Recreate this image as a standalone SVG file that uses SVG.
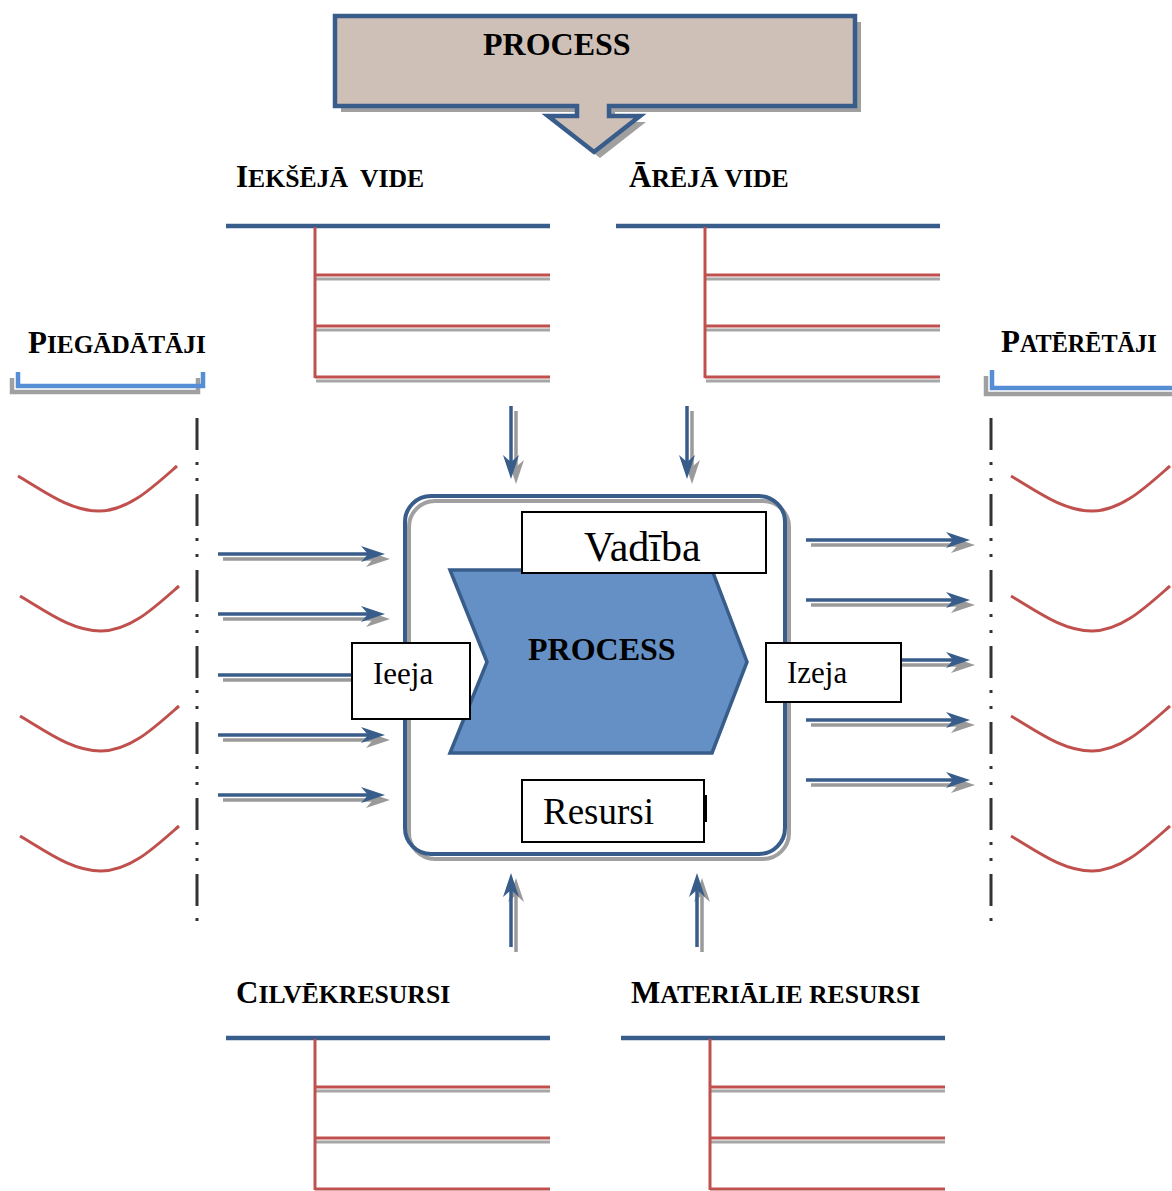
<svg xmlns="http://www.w3.org/2000/svg" xmlns:xlink="http://www.w3.org/1999/xlink" width="1172" height="1191" viewBox="0 0 1172 1191">
  <style>
    .hdr { font-family: "Liberation Serif", "Times New Roman", serif; font-weight: bold; fill: #000; }
    .big { font-size: 31px; }
    .sc { font-size: 25.7px; }
    .lbl { font-family: "Liberation Serif", "Times New Roman", serif; fill: #000; }
    .bar { stroke: #385d8a; stroke-width: 4.5; fill: none; }
    .red { stroke: #c0504d; stroke-width: 3; fill: none; }
    .redsh { stroke: #a6a6a6; stroke-width: 3; fill: none; }
    .brk { stroke: #558ed5; stroke-width: 4.5; fill: none; }
    .brksh { stroke: #a0a0a0; stroke-width: 4.5; fill: none; }
    .dashdot { stroke: #333; stroke-width: 3; stroke-dasharray: 32 12 3 13 3 13; }
    .wave { stroke: #c0504d; stroke-width: 3; fill: none; }
    .box { fill: #fff; stroke: #000; stroke-width: 2; }
    .arr { stroke: #385d8a; stroke-width: 3.5; fill: none; marker-end: url(#headBlue); }
    .arrsh { stroke: #9a9a9a; stroke-width: 3.5; fill: none; marker-end: url(#headGray); }
  </style>
  <defs>
    <marker id="headBlue" viewBox="-13 -9 26 18" refX="0" refY="0" markerWidth="26" markerHeight="18" markerUnits="userSpaceOnUse" orient="auto">
      <path d="M12,0 L-12,-8 L-5,0 L-12,8 Z" fill="#385d8a"/>
    </marker>
    <marker id="headGray" viewBox="-13 -9 26 18" refX="0" refY="0" markerWidth="26" markerHeight="18" markerUnits="userSpaceOnUse" orient="auto">
      <path d="M12,0 L-12,-8 L-5,0 L-12,8 Z" fill="#9a9a9a"/>
    </marker>
    <!-- list-style block: blue heading bar with a red tree of three branches -->
    <g id="tree">
      <line class="bar" x1="226" y1="226" x2="550" y2="226"/>
      <line class="redsh" x1="316" y1="279" x2="550" y2="279"/>
      <line class="redsh" x1="316" y1="330" x2="550" y2="330"/>
      <line class="redsh" x1="316" y1="381" x2="550" y2="381"/>
      <line class="red" x1="315" y1="227" x2="315" y2="378"/>
      <line class="red" x1="315" y1="275" x2="550" y2="275"/>
      <line class="red" x1="315" y1="326" x2="550" y2="326"/>
      <line class="red" x1="315" y1="377" x2="550" y2="377"/>
    </g>
    <path id="wave" class="wave" d="M18,476 C45,492 70,511 99,511 C128,511 152,488 177,466"/>
  </defs>

  <!-- top callout -->
  <g id="callout">
    <path d="M341,22 H861 V112 H615 V122 H646 L600,158 L554,122 H583 V112 H341 Z" fill="#a0a0a0"/>
    <path d="M335,16 H855 V106 H609 V116 H640 L594,152 L548,116 H577 V106 H335 Z" fill="#cfc0b7" stroke="#385d8a" stroke-width="4.5" stroke-linejoin="miter"/>
    <text class="hdr" x="483" y="55" font-size="32">PROCESS</text>
  </g>

  <!-- environment blocks -->
  <g id="internal">
    <text class="hdr" x="236" y="187"><tspan class="big">I</tspan><tspan class="sc">EKŠĒJĀ </tspan><tspan class="sc" dx="6">VIDE</tspan></text>
    <use xlink:href="#tree"/>
  </g>
  <g id="external">
    <text class="hdr" x="629" y="187"><tspan class="big">Ā</tspan><tspan class="sc">RĒJĀ VIDE</tspan></text>
    <use xlink:href="#tree" transform="translate(390,0)"/>
  </g>
  <g id="human">
    <text class="hdr" x="236" y="1003"><tspan class="big">C</tspan><tspan class="sc">ILVĒKRESURSI</tspan></text>
    <use xlink:href="#tree" transform="translate(0,812)"/>
  </g>
  <g id="material">
    <text class="hdr" x="631" y="1003"><tspan class="big">M</tspan><tspan class="sc">ATERIĀLIE RESURSI</tspan></text>
    <use xlink:href="#tree" transform="translate(395,812)"/>
  </g>

  <!-- suppliers -->
  <g id="suppliers">
    <text class="hdr" x="28" y="353"><tspan class="big">P</tspan><tspan style="font-size:25.3px">IEGĀDĀTĀJI</tspan></text>
    <path class="brksh" d="M12,378 V392 H198 V378"/>
    <path class="brk" d="M18,372 V386 H203 V372"/>
    <line class="dashdot" x1="197" y1="418" x2="197" y2="924"/>
    <use xlink:href="#wave"/>
    <use xlink:href="#wave" transform="translate(2,120)"/>
    <use xlink:href="#wave" transform="translate(2,240)"/>
    <use xlink:href="#wave" transform="translate(2,360)"/>
  </g>

  <!-- consumers -->
  <g id="consumers">
    <text class="hdr" x="1001" y="352"><tspan class="big">P</tspan><tspan style="font-size:24.2px">ATĒRĒTĀJI</tspan></text>
    <path class="brksh" d="M986,376 V394 H1175"/>
    <path class="brk" d="M992,370 V388 H1175"/>
    <line class="dashdot" x1="991" y1="418" x2="991" y2="924"/>
    <use xlink:href="#wave" transform="translate(993,0)"/>
    <use xlink:href="#wave" transform="translate(993,120)"/>
    <use xlink:href="#wave" transform="translate(993,240)"/>
    <use xlink:href="#wave" transform="translate(993,360)"/>
  </g>

  <!-- connectors -->
  <g id="connectors">
    <!-- inputs from suppliers -->
    <line class="arrsh" x1="223" y1="559" x2="378" y2="559"/>
    <line class="arr" x1="218" y1="554" x2="373" y2="554"/>
    <line class="arrsh" x1="223" y1="619" x2="378" y2="619"/>
    <line class="arr" x1="218" y1="614" x2="373" y2="614"/>
    <line class="arrsh" x1="223" y1="680" x2="378" y2="680"/>
    <line class="arr" x1="218" y1="675" x2="373" y2="675"/>
    <line class="arrsh" x1="223" y1="740" x2="378" y2="740"/>
    <line class="arr" x1="218" y1="735" x2="373" y2="735"/>
    <line class="arrsh" x1="223" y1="800" x2="378" y2="800"/>
    <line class="arr" x1="218" y1="795" x2="373" y2="795"/>
    <!-- outputs to consumers -->
    <line class="arrsh" x1="811" y1="545" x2="963" y2="545"/>
    <line class="arr" x1="806" y1="540" x2="958" y2="540"/>
    <line class="arrsh" x1="811" y1="605" x2="963" y2="605"/>
    <line class="arr" x1="806" y1="600" x2="958" y2="600"/>
    <line class="arrsh" x1="811" y1="665" x2="963" y2="665"/>
    <line class="arr" x1="806" y1="660" x2="958" y2="660"/>
    <line class="arrsh" x1="811" y1="725" x2="963" y2="725"/>
    <line class="arr" x1="806" y1="720" x2="958" y2="720"/>
    <line class="arrsh" x1="811" y1="785" x2="963" y2="785"/>
    <line class="arr" x1="806" y1="780" x2="958" y2="780"/>
    <!-- environment down into the process -->
    <line class="arrsh" x1="516" y1="411" x2="516" y2="472"/>
    <line class="arr" x1="511" y1="406" x2="511" y2="467"/>
    <line class="arrsh" x1="692" y1="411" x2="692" y2="472"/>
    <line class="arr" x1="687" y1="406" x2="687" y2="467"/>
    <!-- resources up into the process -->
    <line class="arrsh" x1="516" y1="952" x2="516" y2="890"/>
    <line class="arr" x1="511" y1="947" x2="511" y2="885"/>
    <line class="arrsh" x1="702" y1="952" x2="702" y2="890"/>
    <line class="arr" x1="697" y1="947" x2="697" y2="885"/>
  </g>

  <!-- central process frame -->
  <g id="frame">
    <rect x="409" y="501" width="380" height="358" rx="26" fill="none" stroke="#a0a0a0" stroke-width="4"/>
    <rect x="405" y="496" width="380" height="358" rx="26" fill="none" stroke="#385d8a" stroke-width="4"/>
  </g>
  <g id="process">
    <polygon points="450,570 712,570 747,662 712,753 450,753 487,662" fill="#6590c6" stroke="#385d8a" stroke-width="3.5"/>
    <text class="hdr" x="528" y="660" font-size="32">PROCESS</text>
  </g>
  <g id="control">
    <rect class="box" x="522" y="512" width="244" height="61"/>
    <text class="lbl" x="584" y="561" font-size="42">Vadība</text>
  </g>
  <g id="resources">
    <rect class="box" x="522" y="780" width="182" height="62"/>
    <rect x="704" y="795" width="3" height="27" fill="#000"/>
    <text class="lbl" x="543" y="824" font-size="37">Resursi</text>
  </g>
  <g id="input">
    <rect class="box" x="352" y="643" width="118" height="76"/>
    <text class="lbl" x="373" y="684" font-size="31">Ieeja</text>
  </g>
  <g id="output">
    <rect class="box" x="766" y="643" width="135" height="59"/>
    <text class="lbl" x="787" y="683" font-size="31">Izeja</text>
  </g>
</svg>
